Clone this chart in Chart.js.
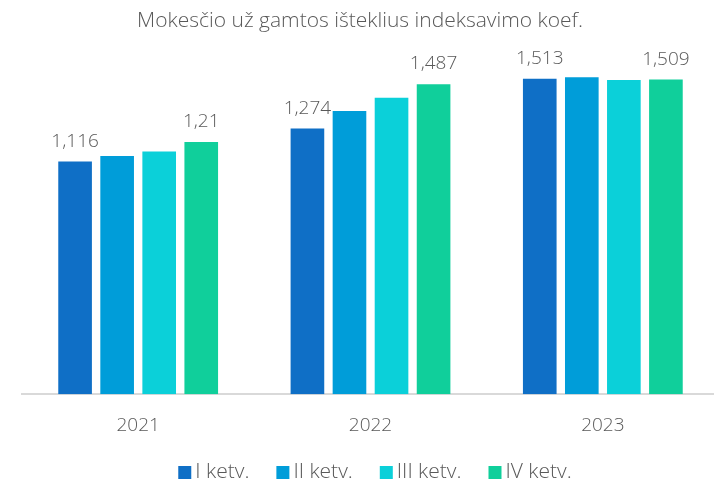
<!DOCTYPE html>
<html lang="lt">
<head>
<meta charset="utf-8">
<script src="https://cdn.jsdelivr.net/npm/chart.js@4/dist/chart.umd.min.js"></script>
<style>
  html, body { margin: 0; padding: 0; background: #fff; overflow: hidden; }
  #wrap { width: 720px; height: 483px; position: relative; }
</style>
</head>
<body>
<div id="wrap"><canvas id="c" width="720" height="483"></canvas></div>
<script>
// Categories and quarterly series
const years = ['2021', '2022', '2023'];
const quarterNames = ['I ketv.', 'II ketv.', 'III ketv.', 'IV ketv.'];
const q1 = [1.116, 1.274, 1.513];
const q2 = [1.143, 1.359, 1.520];
const q3 = [1.164, 1.422, 1.507];
const q4 = [1.21, 1.487, 1.509];
const quarterColors = ['#0F6FC6', '#009DD9', '#0BD0D9', '#10CF9B'];
// Only the first and last quarter carry a value label
const labelled = [true, false, false, true];
const chartTitle = 'Mokesčio už gamtos išteklius indeksavimo koef.';

const FONT = "'Open Sans', 'Segoe UI', sans-serif";
const GREY = '#595959';

// Value labels above the labelled bars
const valueLabels = {
  id: 'valueLabels',
  afterDatasetsDraw(chart) {
    const ctx = chart.ctx;
    ctx.save();
    ctx.font = '300 19px ' + FONT;
    ctx.fillStyle = GREY;
    ctx.textAlign = 'center';
    ctx.textBaseline = 'alphabetic';
    chart.data.datasets.forEach((ds, i) => {
      if (!labelled[i]) return;
      chart.getDatasetMeta(i).data.forEach((bar, j) => {
        const txt = String(ds.data[j]).replace('.', ',');
        ctx.fillText(txt, bar.x, bar.y - 15);
      });
    });
    ctx.restore();
  }
};

// Title on top, compact legend at the bottom
const frame = {
  id: 'frame',
  afterDraw(chart) {
    const ctx = chart.ctx;
    ctx.save();
    ctx.fillStyle = GREY;
    ctx.font = '300 21px ' + FONT;
    ctx.textAlign = 'center';
    ctx.textBaseline = 'alphabetic';
    ctx.fillText(chartTitle, 360, 27);

    ctx.font = '300 21px ' + FONT;
    ctx.textAlign = 'left';
    const box = 13, boxGap = 4, itemGap = 27;
    const items = chart.data.datasets.map(ds => ({
      text: ds.label, color: ds.backgroundColor, w: ctx.measureText(ds.label).width
    }));
    const total = items.reduce((s, it) => s + box + boxGap + it.w, 0) + itemGap * (items.length - 1);
    let x = 375 - total / 2;
    const baseY = 478;
    items.forEach(it => {
      ctx.fillStyle = it.color;
      ctx.fillRect(x, baseY - box + 1, box, box);
      x += box + boxGap;
      ctx.fillStyle = GREY;
      ctx.fillText(it.text, x, baseY);
      x += it.w + itemGap;
    });
    ctx.restore();
  }
};

const series = [q1, q2, q3, q4];
new Chart(document.getElementById('c'), {
  type: 'bar',
  data: {
    labels: years,
    datasets: series.map((d, i) => ({
      label: quarterNames[i],
      data: d,
      backgroundColor: quarterColors[i],
      borderWidth: 0,
      categoryPercentage: 0.724,
      barPercentage: 0.8
    }))
  },
  options: {
    responsive: false,
    animation: false,
    layout: { padding: { left: 22, right: 1, top: 50, bottom: 26 } },
    scales: {
      x: {
        grid: { display: false, drawTicks: false },
        border: { display: true, color: '#D9D9D9', width: 2 },
        ticks: { color: GREY, font: { family: FONT, size: 19, weight: '300' }, padding: 20 }
      },
      y: { display: false, min: 0, max: 1.651 }
    },
    plugins: {
      legend: { display: false },
      title: { display: false },
      tooltip: { enabled: false }
    }
  },
  plugins: [valueLabels, frame]
});
</script>
</body>
</html>
